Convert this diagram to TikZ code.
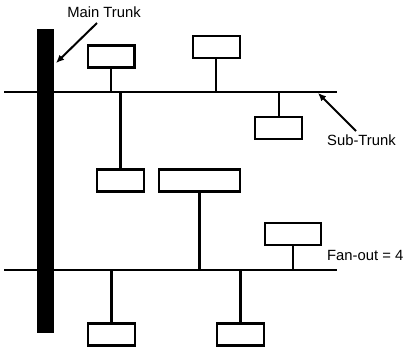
\documentclass[tikz,border=0pt]{standalone}
\usepackage{fontspec}
\setmainfont{Liberation Sans}
\usetikzlibrary{arrows.meta}
\begin{document}
\begin{tikzpicture}[x=1pt,y=-1pt,
  box/.style={draw, line width=2.4pt, minimum width=46.6pt, minimum height=22pt, inner sep=0pt},
  wire/.style={line width=2.4pt},
  lbl/.style={font=\fontsize{14.8pt}{16pt}\selectfont, inner sep=0pt},
  pointer/.style={line width=2pt, -{Latex[length=8pt,width=7pt]}}]
\useasboundingbox (0,0) rectangle (408,351);
% main trunk
\fill (37,29) rectangle (54,333);
% sub-trunk lines
\coordinate (t1) at (4,92);  \coordinate (t2) at (337,92);
\coordinate (b1) at (4,270); \coordinate (b2) at (337,270);
\draw[wire] (t1) -- (t2);
\draw[wire] (b1) -- (b2);
% boxes
\node[box] (A) at (111,56.5) {};
\node[box] (B) at (216.5,47) {};
\node[box] (C) at (278.5,128) {};
\node[box] (D) at (120.5,180.5) {};
\node[box, minimum width=80.6pt] (E) at (199.5,180.5) {};
\node[box, minimum width=55.6pt] (F) at (293,234) {};
\node[box] (G) at (111.5,334.5) {};
\node[box] (H) at (240.5,334.5) {};
% stems
\coordinate (sA) at (111,92);
\coordinate (sB) at (216,92);
\coordinate (sC) at (279,92);
\coordinate (sD) at (120.5,92);
\coordinate (sE) at (199.5,270);
\coordinate (sF) at (293,270);
\coordinate (sG) at (111.5,270);
\coordinate (sH) at (240.5,270);
\draw[wire] (A.south) -- (sA);
\draw[wire] (B.south -| sB) -- (sB);
\draw[wire] (C.north -| sC) -- (sC);
\draw[wire] (D.north) -- (sD);
\draw[wire] (E.south) -- (sE);
\draw[wire] (F.south) -- (sF);
\draw[wire] (G.north) -- (sG);
\draw[wire] (H.north) -- (sH);
% labels
\node[lbl] (mt) at (104,12) {Main Trunk};
\coordinate (mtS) at (97,23);
\coordinate (mtT) at (56,63);
\draw[pointer] (mtS) -- (mtT);
\node[lbl] (st) at (361.5,140) {Sub-Trunk};
\coordinate (stS) at (356,131);
\coordinate (stT) at (318,93);
\draw[pointer] (stS) -- (stT);
\node[lbl, anchor=west] (fo) at (327,255) {Fan-out = 4};
\end{tikzpicture}
\end{document}
